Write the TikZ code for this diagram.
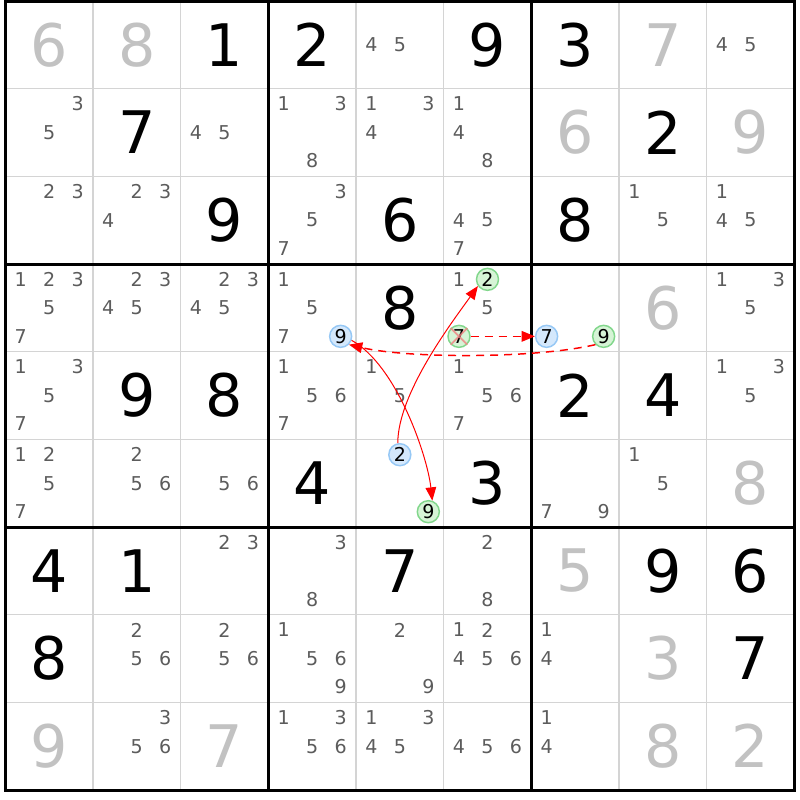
\documentclass[tikz,border=0pt]{standalone}
\usepackage{fontspec}
\usetikzlibrary{arrows.meta}
\newfontfamily\gridfont{DejaVu Sans}
\definecolor{candgray}{RGB}{92,92,92}
\definecolor{givengray}{RGB}{194,194,194}
\definecolor{thingray}{RGB}{212,212,212}
\definecolor{bluefill}{RGB}{212,232,252}
\definecolor{blueline}{RGB}{150,200,245}
\definecolor{greenfill}{RGB}{214,244,214}
\definecolor{greenline}{RGB}{130,215,140}
\definecolor{crossred}{RGB}{240,130,130}
\def\cellx#1{5.3+87.67*(#1-0.5)}
\def\celly#1{1+87.67*(#1-0.5)}
\tikzset{
	cand/.style={inner sep=0pt, text=candgray, font=\gridfont\fontsize{14.3}{16}\selectfont},
	given/.style={inner sep=0pt, text=givengray, font=\gridfont\fontsize{44}{50}\selectfont},
	solved/.style={given, text=black},
	pickblue/.style={circle, inner sep=0pt, minimum size=16.5pt, line width=1.1pt, draw=blueline, fill=bluefill, text=black, font=\gridfont\fontsize{14.3}{16}\selectfont},
	pickgreen/.style={pickblue, draw=greenline, fill=greenfill},
	strong/.style={red, line width=0.75pt, -{Triangle[length=10pt, width=8pt]}},
	weak/.style={strong, line width=1.1pt, dash pattern=on 6pt off 4.5pt},
}

\begin{document}
\begin{tikzpicture}[x=0.75pt, y=-0.75pt]
			%%%%% START %%%%%
			
			\fill[white] (0, 0) rectangle (800, 800);
			\useasboundingbox (0, 0) rectangle (800, 800);
			
			% grid
			\foreach \i in {1, 2, 4, 5, 7, 8} {
				\draw[thingray, line width=1.1pt] ({5.3+87.67*\i}, 1) -- ({5.3+87.67*\i}, 790);
				\draw[thingray, line width=1.1pt] (5.3, {1+87.67*\i}) -- (794.3, {1+87.67*\i});
			}
			\foreach \i in {0, 3, 6, 9} {
				\draw[black, line width=2.25pt, line cap=rect] ({5.3+87.67*\i}, 1) -- ({5.3+87.67*\i}, 790);
				\draw[black, line width=2.25pt, line cap=rect] (5.3, {1+87.67*\i}) -- (794.3, {1+87.67*\i});
			}
			
			% givens
			\foreach \row/\col/\dig in {1/1/6, 1/2/8, 1/8/7, 2/7/6, 2/9/9, 4/8/6, 6/9/8, 7/7/5, 8/8/3, 9/1/9, 9/3/7, 9/8/8, 9/9/2}
				\node[given] (cell-\row-\col) at ({\cellx{\col}}, {\celly{\row}}) {\dig};
			
			% solved
			\foreach \row/\col/\dig in {1/3/1, 1/4/2, 1/6/9, 1/7/3, 2/2/7, 2/8/2, 3/3/9, 3/5/6, 3/7/8, 4/5/8, 5/2/9, 5/3/8, 5/7/2, 5/8/4, 6/4/4, 6/6/3, 7/1/4, 7/2/1, 7/5/7, 7/8/9, 7/9/6, 8/1/8, 8/9/7}
				\node[solved] (cell-\row-\col) at ({\cellx{\col}}, {\celly{\row}}) {\dig};
			
			% candidates
			\foreach \row/\col/\digs in {1/5/{4,5}, 1/9/{4,5},
				2/1/{3,5}, 2/3/{4,5}, 2/4/{1,3,8}, 2/5/{1,3,4}, 2/6/{1,4,8},
				3/1/{2,3}, 3/2/{2,3,4}, 3/4/{3,5,7}, 3/6/{4,5,7}, 3/8/{1,5}, 3/9/{1,4,5},
				4/1/{1,2,3,5,7}, 4/2/{2,3,4,5}, 4/3/{2,3,4,5}, 4/4/{1,5,7}, 4/6/{1,5}, 4/9/{1,3,5},
				5/1/{1,3,5,7}, 5/4/{1,5,6,7}, 5/5/{1,5}, 5/6/{1,5,6,7}, 5/9/{1,3,5},
				6/1/{1,2,5,7}, 6/2/{2,5,6}, 6/3/{5,6}, 6/7/{7,9}, 6/8/{1,5},
				7/3/{2,3}, 7/4/{3,8}, 7/6/{2,8},
				8/2/{2,5,6}, 8/3/{2,5,6}, 8/4/{1,5,6,9}, 8/5/{2,9}, 8/6/{1,2,4,5,6}, 8/7/{1,4},
				9/2/{3,5,6}, 9/4/{1,3,5,6}, 9/5/{1,3,4,5}, 9/6/{4,5,6}, 9/7/{1,4}} {
				\foreach \dig in \digs
					\node[cand] (cand-\row-\col-\dig) at ({\cellx{\col}+28.5*(mod(\dig-1,3)-1)}, {\celly{\row}+28.5*(int((\dig-1)/3)-1)}) {\dig};
			}
			
			% chain
			\node[pickblue] (blue9) at ({\cellx{4}+28.5}, {\celly{4}+28.5}) {9};
			\node[pickgreen] (green2) at ({\cellx{6}}, {\celly{4}-28.5}) {2};
			\node[pickgreen] (green7) at ({\cellx{6}-28.5}, {\celly{4}+28.5}) {7};
			\node[pickblue] (blue7) at ({\cellx{7}-28.5}, {\celly{4}+28.5}) {7};
			\node[pickgreen] (green9a) at ({\cellx{7}+28.5}, {\celly{4}+28.5}) {9};
			\node[pickblue] (blue2) at ({\cellx{5}}, {\celly{6}-28.5}) {2};
			\node[pickgreen] (green9b) at ({\cellx{5}+28.5}, {\celly{6}+28.5}) {9};
			
			\draw[crossred, line width=1.4pt, opacity=0.8] (green7.north west) -- (green7.south east) (green7.north east) -- (green7.south west);
			
			\draw[strong] (blue2.100) .. controls +(0, -50) and +(-25, 35) .. (green2.215);
			\draw[strong] (blue9.-20) .. controls +(45, 25) and +(-5, -45) .. (green9b.70);
			\draw[weak] (green7) -- (blue7);
			\draw[weak] (green9a.south west) .. controls +(-60, 14) and +(60, 14) .. (blue9.south east);
			
			%%%%% END %%%%%
\end{tikzpicture}
\end{document}
